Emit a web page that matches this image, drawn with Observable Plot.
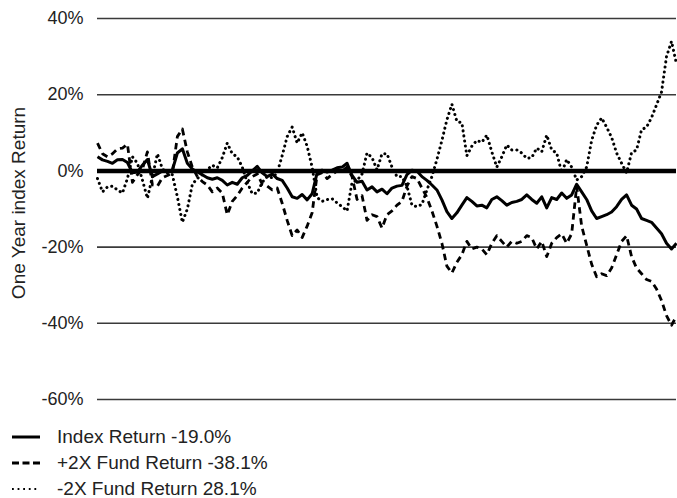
<!DOCTYPE html>
<html>
<head>
<meta charset="utf-8">
<script src="https://cdn.jsdelivr.net/npm/d3@7"></script>
<script src="https://cdn.jsdelivr.net/npm/@observablehq/plot@0.6"></script>
<style>
  html, body { margin: 0; padding: 0; background: #fff; }
  body { width: 677px; height: 498px; overflow: hidden; font-family: "Liberation Sans", Arial, sans-serif; }
  #legend { margin-top: 12px; }
  .row { display: flex; align-items: center; height: 26px; font-size: 19px; color: #222; }
  .row svg { display: block; flex: none; }
</style>
</head>
<body>
<div id="chart"></div>
<div id="legend"></div>
<script>
const yTicks = [-60, -40, -20, 0, 20, 40];
const yTitle = "One Year index Return";

const indexReturn = [
  3.7, 2.9, 2.5, 2.0, 2.9, 3.0, 2.2, -0.5, -0.3, 1.5,
  3.0, -1.5, -0.8, 0, 0, 0.2, 4.7, 5.8, 2.0, 0.5,
  -0.3, -1.0, -1.8, -2.2, -1.8, -2.5, -3.7, -3.0, -3.5, -1.8,
  -1.2, 0, 1.2, -0.5, -1.5, -0.8, -2.0, -2.5, -4.5, -6.8,
  -7.2, -6.2, -7.6, -6.0, -0.5, 0.2, -0.3, 0.2, 0.8, 1.0,
  2.0, -1.2, -3.0, -2.7, -5.0, -4.2, -5.5, -4.8, -6.0, -4.5,
  -4.0, -3.8, -1.0, 0.2, 0.0, -1.5, -2.5, -3.7, -5.0, -7.6,
  -10.7, -12.5, -11.0, -9.0, -7.0, -8.0, -9.2, -9.0, -9.7, -7.5,
  -6.8, -7.8, -9.0, -8.3, -8.0, -7.5, -6.3, -7.5, -8.5, -6.8,
  -9.7, -7.0, -7.5, -5.8, -7.2, -6.3, -3.5, -5.5, -7.5, -10.5,
  -12.5, -12.0, -11.5, -10.8, -9.4, -7.5, -6.3, -9.0, -10.0, -12.5,
  -13.0, -13.5, -15.0, -16.5, -19.0, -20.5, -19.0
];

const fundPlus2x = [
  7.3, 4.5, 3.7, 4.5, 5.8, 6.0, 7.0, -3.0, -1.0, 0.5,
  5.0, -3.7, -4.0, -1.8, -1.2, -0.5, 9.0, 11.0, 5.0, 1.0,
  -1.5, -2.8, -3.7, -5.5, -4.5, -5.8, -11.5, -8.0, -6.5, -4.5,
  -3.0, -1.5, -0.8, -3.5, -4.0, -5.0, -4.5, -8.5, -13.0, -17.0,
  -15.5, -17.5, -14.5, -11.0, -1.0, -0.5, -2.0, -1.0, 0.0, 0.0,
  1.0, -1.5, -7.5, -6.5, -13.0, -11.5, -12.0, -15.0, -11.5, -10.5,
  -9.0, -8.0, -4.0, -1.5, -2.0, -4.5, -7.0, -10.5, -14.5, -19.0,
  -25.0, -26.8, -24.0, -22.0, -18.5, -20.5, -20.0, -20.5, -22.0, -19.0,
  -17.0, -18.5, -20.0, -18.5, -19.0, -18.5, -17.0, -17.5, -20.5, -18.5,
  -22.5, -19.0, -17.5, -16.5, -19.0, -16.5, -4.0, -14.5, -19.5, -24.5,
  -27.8, -27.0, -27.5, -25.5, -22.0, -18.5, -17.0, -22.5, -25.5, -27.0,
  -28.5, -29.0, -31.0, -34.0, -38.0, -40.5, -38.1
];

const fundMinus2x = [
  -2.0, -5.5, -4.2, -4.0, -5.0, -5.8, -2.0, 3.7, 2.0, -2.4,
  -7.2, -1.5, 4.5, 0.5, -0.5, -1.0, -6.8, -13.5, -10.0, -3.5,
  -2.0, -1.0, 0.3, 1.5, 0.8, 3.5, 7.3, 4.5, 3.7, 1.0,
  -3.0, -6.0, -5.8, -3.0, -1.5, -1.8, -0.5, 4.0, 9.0, 11.5,
  7.3, 10.0, 6.5, 1.0, -7.0, -8.0, -7.5, -7.3, -8.4, -9.4,
  -10.5, -3.0, -2.5, -0.8, 4.7, 3.5, 0.3, 4.5, 4.5, 1.0,
  -1.5, -1.5, -4.0, -9.0, -9.4, -8.8, -5.0, -1.5, 3.0, 8.0,
  13.4, 17.5, 13.0, 12.6, 4.0, 6.5, 8.0, 7.5, 9.4, 5.0,
  1.0, 3.7, 6.8, 5.5, 5.5, 4.7, 3.3, 3.5, 6.0, 5.0,
  9.4, 5.5, 4.7, -0.5, 3.0, 1.0, -2.4, -1.5, 1.0, 8.0,
  12.0, 13.9, 11.5, 8.8, 4.7, 2.0, -0.5, 4.8, 5.5, 10.8,
  11.5, 14.0, 17.3, 20.7, 30.0, 34.0, 28.1
];

const legendLabels = [
  "Index Return -19.0%",
  "+2X Fund Return -38.1%",
  "-2X Fund Return 28.1%"
];

const styles = [
  {dash: null, width: 3, cap: "butt", legendDash: null, legendWidth: 3, legendCap: "butt"},
  {dash: "6.5,4.5", width: 2.8, cap: "butt", legendDash: "7,3.5", legendWidth: 3, legendCap: "butt"},
  {dash: "0.1,5", width: 3, cap: "round", legendDash: "1.8,3.8", legendWidth: 1.8, legendCap: "butt"}
];
const series = [indexReturn, fundPlus2x, fundMinus2x];

const chart = Plot.plot({
  width: 677,
  height: 412,
  marginLeft: 97,
  marginRight: 1,
  marginTop: 18,
  marginBottom: 13,
  style: {fontFamily: "'Liberation Sans', Arial, sans-serif", fontSize: "18px", color: "#222", background: "#fff"},
  x: {domain: [0, indexReturn.length - 1], axis: null},
  y: {domain: [-60, 40], axis: null},
  marks: [
    Plot.ruleY(yTicks.filter(d => d !== 0), {stroke: "#3a3a3a", strokeWidth: 1.6}),
    Plot.axisY({ticks: yTicks, tickFormat: d => `${d}%`, tickSize: 0, tickPadding: 14, fontSize: 18, label: null, fill: "#222"}),
    Plot.text([yTitle], {frameAnchor: "left", textAnchor: "middle", rotate: -90, dx: -79, dy: -6, fontSize: 19, fill: "#222"}),
    Plot.ruleY([0], {stroke: "#000", strokeWidth: 4.5}),
    ...series.map((s, k) => Plot.lineY(s, {
      stroke: "#000",
      strokeWidth: styles[k].width,
      strokeDasharray: styles[k].dash,
      strokeLinecap: styles[k].cap,
      strokeLinejoin: "round"
    }))
  ]
});
document.getElementById("chart").appendChild(chart);

const legend = d3.select("#legend");
legendLabels.forEach((label, k) => {
  const row = legend.append("div").attr("class", "row");
  const svg = row.append("svg").attr("width", 57).attr("height", 26);
  svg.append("line")
    .attr("x1", 12).attr("x2", 40).attr("y1", 13).attr("y2", 13)
    .attr("stroke", "#000")
    .attr("stroke-width", styles[k].legendWidth)
    .attr("stroke-linecap", styles[k].legendCap)
    .attr("stroke-dasharray", styles[k].legendDash);
  row.append("span").text(label);
});
</script>
</body>
</html>
